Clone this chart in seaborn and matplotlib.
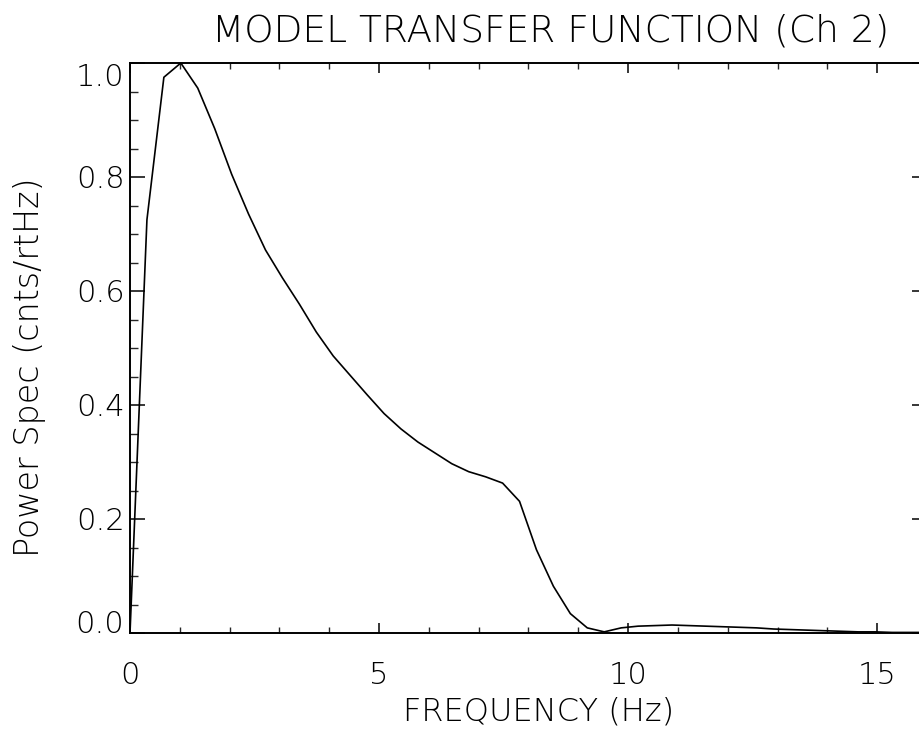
import matplotlib
matplotlib.use("Agg")
import matplotlib.pyplot as plt
import seaborn as sns
import pandas as pd
from matplotlib.ticker import MultipleLocator

# --- dados ---
freq = [0.00, 0.34, 0.68, 1.02, 1.36, 1.70, 2.04, 2.38, 2.72, 3.06,
        3.40, 3.74, 4.08, 4.42, 4.76, 5.10, 5.44, 5.78, 6.12, 6.46,
        6.80, 7.14, 7.48, 7.82, 8.16, 8.50, 8.84, 9.18, 9.52, 9.86,
        10.20, 10.54, 10.88, 11.22, 11.56, 11.90, 12.24, 12.58, 12.92, 13.26,
        13.60, 13.94, 14.28, 14.62, 14.96, 15.30, 15.64, 15.98]
power = [0.000, 0.725, 0.975, 1.000, 0.956, 0.885, 0.805, 0.735, 0.672, 0.623,
         0.577, 0.528, 0.486, 0.452, 0.418, 0.385, 0.358, 0.335, 0.316, 0.297,
         0.283, 0.274, 0.263, 0.231, 0.146, 0.082, 0.034, 0.009, 0.002, 0.009,
         0.012, 0.013, 0.014, 0.013, 0.012, 0.011, 0.010, 0.009, 0.007, 0.006,
         0.005, 0.004, 0.003, 0.002, 0.002, 0.001, 0.001, 0.001]

x_ticks = [0, 5, 10, 15]
y_ticks = [0.0, 0.2, 0.4, 0.6, 0.8, 1.0]
y_tick_labels = ["0.0", "0.2", "0.4", "0.6", "0.8", "1.0"]

df = pd.DataFrame({"freq": freq, "power": power})

sns.set_theme(style="ticks")
plt.rcParams["font.family"] = ["DejaVu Sans"]
plt.rcParams["font.weight"] = "light"   # traço fino, parecido com a fonte Hershey

fig = plt.figure(figsize=(9.2, 7.37), dpi=100)
ax = fig.add_axes([130 / 920, 104 / 737, 797 / 920, 570 / 737])

sns.lineplot(data=df, x="freq", y="power", color="black", linewidth=1.2, ax=ax)

ax.set_xlim(0, 16)
ax.set_ylim(0, 1.0)
ax.set_xticks(x_ticks)
ax.set_xticklabels([str(t) for t in x_ticks])
ax.set_yticks(y_ticks)
ax.set_yticklabels(y_tick_labels)
ax.xaxis.set_minor_locator(MultipleLocator(1))
ax.yaxis.set_minor_locator(MultipleLocator(0.05))

for s in ax.spines.values():
    s.set_visible(True)
    s.set_linewidth(1.4)
    s.set_color("black")

ax.tick_params(axis="x", which="major", direction="in", length=7.5, width=1.1,
               top=True, bottom=True, labelsize=22, pad=20, colors="black")
ax.tick_params(axis="x", which="minor", direction="in", length=4, width=1.0,
               top=True, bottom=True)
ax.tick_params(axis="y", which="major", direction="in", length=11, width=1.1,
               left=True, right=True, labelsize=22, pad=4, colors="black")
ax.tick_params(axis="y", which="minor", direction="in", length=5.5, width=1.0,
               left=True, right=True)

# rótulos extremos do eixo y ficam dentro do quadro, como no original
ylabels = ax.get_yticklabels()
ylabels[0].set_va("baseline")
ylabels[-1].set_va("top")

ax.set_xlabel("FREQUENCY (Hz)", fontsize=23, color="black", fontweight="light")
ax.set_ylabel("Power Spec (cnts/rtHz)", fontsize=24, color="black", fontweight="light")
ax.xaxis.set_label_coords(0.513, -0.112)
ax.yaxis.set_label_coords(-0.105, 0.467)

fig.text(551 / 920, 1 - 31 / 737, "MODEL TRANSFER FUNCTION (Ch 2)",
         fontsize=27, ha="center", va="center", color="black", fontweight="light")

fig.savefig("out.png", dpi=100)
